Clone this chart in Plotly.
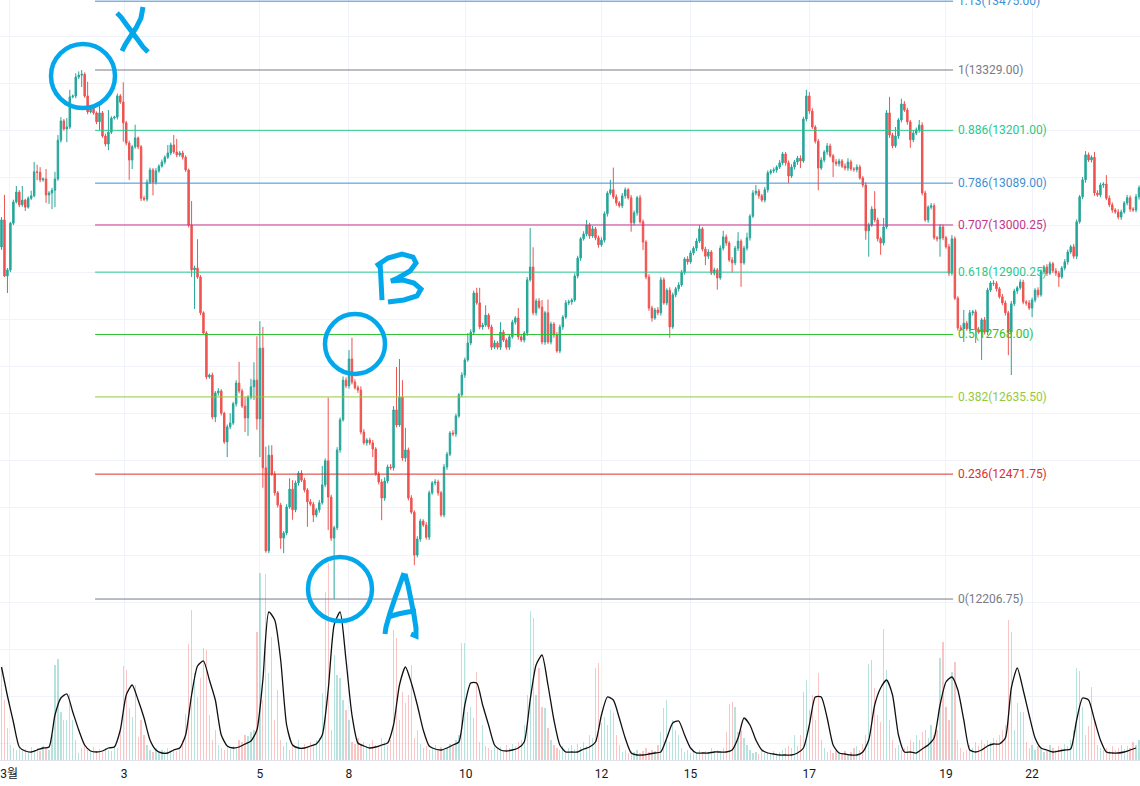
import plotly.graph_objects as go

# ---------------- data (hourly candles, index = candle number) ----------------
first_open = 12953.5
closes = [
    13011, 12892, 12905, 13004, 13049, 13070, 13043, 13053, 13038, 13057,
    13062, 13113, 13112, 13096, 13098, 13064, 13068, 13074, 13098, 13180,
    13221, 13204, 13208, 13272, 13274, 13314, 13318, 13320, 13274, 13240,
    13248, 13238, 13219, 13238, 13189, 13172, 13197, 13227, 13229, 13274,
    13261, 13217, 13174, 13138, 13166, 13185, 13166, 13057, 13055, 13091,
    13117, 13091, 13115, 13125, 13134, 13144, 13153, 13170, 13155, 13149,
    13153, 13144, 13117, 13000, 12905, 12909, 12890, 12814, 12771, 12678,
    12682, 12593, 12644, 12648, 12601, 12540, 12572,
    12580, 12621, 12665, 12648, 12616, 12591, 12635, 12657, 12671, 12589,
    12739, 12485, 12309, 12512, 12472, 12432, 12406, 12336, 12347, 12402,
    12440, 12396, 12453, 12474, 12459, 12438, 12413, 12408, 12385, 12396,
    12411, 12449, 12500, 12423, 12336, 12358,
    12523, 12587, 12671, 12659, 12716, 12667, 12655, 12650, 12561, 12538,
    12544, 12538, 12525, 12472, 12455, 12421, 12457, 12487, 12485, 12608,
    12576, 12635, 12506, 12523, 12421, 12391, 12300, 12334, 12372, 12364,
    12338, 12432, 12453, 12455, 12432, 12385, 12487, 12514, 12559, 12557,
    12595,
    12640, 12682, 12714, 12750, 12773, 12856, 12835, 12784, 12788, 12809,
    12784, 12741, 12750, 12741, 12773, 12756, 12741, 12763, 12794, 12803,
    12763, 12756, 12771, 12884, 12911, 12814, 12839, 12826, 12752, 12814,
    12752, 12790, 12767, 12733, 12784, 12805, 12835, 12837, 12841, 12892,
    12930, 12971, 12981, 13000, 12977, 12992, 12973, 12958, 12968, 13024,
    13068, 13075, 13060, 13047, 13041, 13062, 13075, 13058, 13005, 13026,
    13058, 13007, 12964, 12890, 12824, 12803, 12820, 12814, 12884, 12835,
    12862, 12784, 12852, 12865, 12873,
    12900, 12928, 12922, 12941, 12951, 12966, 12992, 12949, 12934, 12943,
    12898, 12905, 12888, 12951, 12975, 12962, 12926, 12920, 12951, 12966,
    12920, 12951, 12973, 13019, 13068, 13072, 13062, 13053, 13075, 13111,
    13115, 13117, 13123, 13132, 13151, 13132, 13104, 13123, 13134, 13142,
    13136, 13225, 13274, 13242, 13208, 13178, 13121, 13138, 13155, 13168,
    13147, 13134, 13130, 13136, 13125, 13121, 13134, 13119, 13118, 13123,
    13100, 13085, 12988, 13000, 13034, 13011, 12971, 12962, 12996, 13238,
    13191, 13168, 13189, 13223, 13257, 13244,
    13219, 13181, 13195, 13202, 13212, 13068, 13011, 13038, 13041, 12973,
    12971, 12996, 12973, 12954, 12898, 12971, 12845, 12782, 12780, 12792,
    12780, 12814, 12816, 12778, 12773, 12799, 12773, 12862, 12877, 12876,
    12865, 12848, 12835, 12814, 12773, 12833, 12860, 12867, 12879, 12837,
    12835, 12824, 12841, 12862, 12852, 12901, 12911, 12898, 12918, 12903,
    12898, 12890, 12909, 12922, 12943, 12954, 12934, 13007, 13060, 13096,
    13149, 13138, 13144, 13068, 13064, 13085, 13087, 13057, 13043, 13032,
    13028, 13017, 13028, 13047, 13058, 13034, 13032, 13060, 13079,
]

# wick beyond the candle body (price points)
wick_up = [
    6, 53, 4, 3, 5, 13, 4, 30, 3, 4,
    11, 21, 15, 11, 3, 21, 4, 5, 15, 11,
    8, 4, 19, 15, 3, 8, 8, 9, 4, 30,
    5, 4, 3, 17, 4, 5, 47, 4, 3, 5,
    4, 42, 4, 5, 4, 28, 3, 4, 5, 6,
    5, 4, 6, 4, 5, 4, 17, 5, 21, 28,
    4, 5, 4, 3, 51, 5, 61, 4, 3, 4,
    3, 5, 4, 6, 4, 3, 5, 21, 4, 6,
    45, 5, 19, 4, 17, 38, 93, 57, 45, 45,
    21, 21, 6, 4, 5, 4, 6, 23, 19, 5,
    4, 6, 5, 4, 6, 5, 4, 6, 40, 5,
    134, 5, 4, 6, 5, 8, 6, 19, 45, 6,
    5, 8, 6, 4, 5, 6, 4, 5, 6, 8,
    5, 6, 8, 91, 81, 36, 47, 5, 6, 4,
    6, 5, 4, 6, 5, 4, 6, 5, 4, 6,
    5, 4, 6, 5, 4, 6, 5, 21, 6, 5,
    11, 32, 5, 21, 4, 5, 6, 4, 21, 5,
    4, 6, 5, 4, 21, 5, 4, 6, 83, 42,
    5, 6, 15, 4, 28, 5, 4, 6, 5, 4,
    6, 5, 4, 6, 5, 4, 6, 11, 5, 6,
    4, 5, 6, 5, 4, 21, 47, 5, 4, 6,
    5, 4, 6, 5, 4, 6, 5, 4, 6, 5,
    4, 6, 6, 5, 4, 6, 5, 4, 6, 5,
    4, 6, 5, 4, 6, 8, 4, 5, 6, 4,
    5, 4, 6, 13, 5, 4, 6, 5, 19, 4,
    5, 11, 4, 6, 13, 5, 4, 6, 5, 4,
    5, 4, 6, 4, 4, 5, 6, 4, 5, 6,
    5, 13, 8, 6, 4, 5, 6, 4, 6, 5,
    4, 6, 5, 4, 6, 8, 5, 4, 6, 5,
    4, 6, 5, 6, 38, 5, 4, 19, 6, 34,
    5, 19, 4, 11, 6, 5, 4, 6, 5, 11,
    6, 5, 4, 6, 5, 4, 6, 5, 4, 6,
    8, 5, 4, 6, 28, 5, 6, 4, 5, 6,
    4, 6, 5, 4, 6, 5, 4, 6, 5, 4,
    6, 5, 4, 6, 5, 4, 6, 5, 4, 6,
    5, 4, 6, 5, 4, 6, 5, 4, 6, 5,
    4, 6, 5, 4, 6, 8, 5, 4, 11, 6,
    5, 4, 19, 6, 5, 4, 6, 5, 4, 6,
    5, 4, 6, 5,
]
wick_dn = [
    6, 2, 36, 5, 4, 3, 5, 4, 8, 3,
    4, 3, 17, 5, 4, 17, 19, 34, 36, 4,
    5, 4, 28, 4, 3, 5, 4, 25, 4, 5,
    3, 4, 5, 17, 4, 5, 13, 4, 3, 5,
    4, 40, 5, 42, 19, 4, 5, 6, 4, 5,
    4, 28, 5, 4, 3, 5, 4, 5, 4, 5,
    4, 5, 4, 5, 15, 83, 4, 5, 4, 5,
    4, 5, 11, 6, 5, 4, 32, 5, 4, 6,
    5, 4, 30, 38, 5, 28, 23, 81, 42, 4,
    5, 4, 6, 5, 23, 32, 5, 4, 21, 5,
    6, 4, 5, 53, 4, 15, 5, 6, 4, 5,
    70, 6, 129.25, 5, 6, 4, 5, 6, 5, 4,
    6, 5, 4, 6, 5, 17, 4, 5, 47, 6,
    5, 4, 6, 5, 4, 6, 8, 5, 4, 21,
    5, 6, 4, 5, 6, 4, 5, 6, 4, 5,
    6, 4, 5, 6, 4, 5, 6, 4, 5, 6,
    4, 5, 6, 4, 5, 6, 4, 5, 6, 4,
    5, 6, 4, 5, 6, 4, 5, 6, 4, 5,
    6, 4, 5, 6, 4, 5, 6, 4, 5, 6,
    4, 5, 6, 4, 5, 6, 4, 5, 6, 4,
    5, 6, 4, 5, 6, 4, 5, 6, 4, 5,
    6, 4, 19, 5, 6, 4, 17, 5, 6, 8,
    4, 5, 6, 4, 5, 23, 4, 5, 6, 4,
    5, 6, 4, 5, 6, 4, 5, 19, 6, 4,
    5, 25, 4, 5, 6, 4, 21, 5, 6, 51,
    4, 5, 6, 4, 5, 6, 4, 5, 6, 4,
    5, 6, 4, 5, 6, 15, 4, 5, 6, 15,
    4, 5, 6, 4, 5, 47, 4, 5, 6, 4,
    32, 5, 6, 4, 5, 6, 4, 5, 6, 4,
    5, 19, 55, 4, 5, 6, 25, 5, 4, 6,
    5, 4, 6, 5, 4, 6, 17, 5, 4, 6,
    5, 4, 6, 5, 4, 6, 38, 5, 4, 6,
    5, 4, 6, 5, 28, 4, 5, 6, 28, 4,
    59, 5, 6, 4, 5, 6, 4, 5, 6, 49,
    91, 5, 6, 4, 5, 6, 4, 19, 5, 6,
    4, 5, 6, 4, 5, 6, 21, 4, 5, 6,
    4, 5, 6, 4, 5, 6, 4, 5, 6, 4,
    5, 6, 4, 5, 6, 4, 5, 6, 4, 5,
    6, 4, 5, 6,
]

volume = [
    93, 60, 32, 15, 12, 10, 12, 9, 11, 8,
    13, 10, 12, 9, 14, 12, 10, 25, 95, 101,
    48, 40, 40, 66, 40, 20, 7, 12, 15, 10,
    8, 13, 9, 11, 8, 12, 10, 9, 14, 12,
    30, 94, 90, 52, 43, 75, 23, 40, 25, 15,
    10, 8, 12, 7, 10, 9, 12, 8, 11, 9,
    13, 20, 46, 116, 150, 87, 63, 82, 112, 110,
    45, 20, 30, 15, 12, 10, 13, 11, 14, 12,
    20, 18, 25, 24, 28, 30, 128, 187, 60, 186,
    87, 123, 40, 70, 20, 14, 18, 10, 15, 12,
    20, 11, 16, 13, 18, 14, 20, 22, 67, 168,
    197, 30, 105, 85, 82, 60, 50, 40, 18, 16,
    22, 15, 18, 14, 16, 20, 15, 14, 22, 18,
    15, 20, 130, 122, 40, 68, 57, 65, 95, 22,
    30, 16, 12, 14, 10, 12, 15, 11, 13, 10,
    12, 16, 15, 20, 25, 117, 117, 48, 53, 42,
    88, 18, 35, 14, 12, 10, 14, 11, 13, 9,
    15, 12, 16, 14, 18, 20, 35, 65, 149, 142,
    65, 92, 53, 52, 32, 20, 15, 12, 10, 14,
    9, 12, 15, 11, 16, 13, 18, 14, 25, 22,
    92, 97, 37, 43, 35, 50, 47, 25, 15, 8,
    10, 7, 9, 8, 10, 7, 9, 12, 8, 10,
    9, 15, 28, 52, 60, 18, 40, 30, 25, 12,
    8, 10, 7, 9, 8, 10, 7, 9, 8, 12,
    9, 10, 8, 12, 28, 56, 58, 53, 28, 30,
    22, 15, 10, 7, 8, 6, 9, 7, 8, 6,
    9, 7, 8, 10, 12, 14, 12, 25, 14, 25,
    68, 80, 50, 65, 40, 87, 20, 12, 8, 10,
    7, 9, 8, 7, 9, 6, 8, 12, 14, 10,
    16, 25, 96, 100, 72, 45, 38, 131, 90, 40,
    20, 12, 15, 10, 12, 14, 20, 18, 25, 20,
    28, 30, 22, 35, 25, 30, 102, 118, 53, 40,
    88, 98, 20, 12, 8, 10, 15, 12, 18, 14,
    20, 16, 20, 18, 22, 20, 25, 30, 35, 140,
    128, 30, 57, 48, 48, 18, 12, 15, 10, 14,
    12, 8, 10, 15, 12, 10, 14, 12, 16, 14,
    20, 30, 92, 89, 53, 25, 34, 73, 40, 15,
    12, 10, 12, 9, 14, 10, 12, 15, 11, 14,
    12, 18, 15, 20,
]

# smoothed volume indicator, one value every second candle
vol_line = [
    93, 64, 38, 13, 9, 8, 10, 12, 13, 45,
    62, 66, 48, 30, 15, 9, 8, 9, 12, 13,
    30, 65, 75, 60, 42, 20, 10, 7, 7, 10,
    12, 25, 65, 94, 99, 80, 60, 25, 14, 12,
    13, 16, 19, 30, 80, 148, 140, 100, 35, 15,
    12, 12, 14, 16, 25, 70, 135, 148, 100, 45,
    17, 14, 12, 13, 15, 17, 35, 75, 93, 77,
    55, 30, 14, 11, 10, 12, 15, 18, 55, 77,
    77, 55, 35, 15, 10, 9, 10, 12, 18, 60,
    95, 105, 75, 40, 15, 8, 8, 8, 11, 13,
    18, 45, 63, 60, 42, 22, 7, 5, 5, 6,
    7, 8, 22, 37, 39, 25, 12, 7, 7, 7,
    8, 8, 8, 10, 22, 42, 35, 20, 10, 7,
    6, 5, 5, 5, 7, 12, 35, 63, 63, 42,
    15, 7, 6, 5, 5, 8, 20, 55, 72, 80,
    65, 25, 8, 8, 7, 11, 15, 22, 55, 78,
    83, 70, 40, 10, 8, 10, 14, 16, 16, 22,
    72, 92, 70, 45, 22, 12, 10, 8, 9, 10,
    11, 40, 62, 60, 40, 20, 8, 7, 7, 8,
    10, 12,
]

fib_ratios = ["1.13", "1", "0.886", "0.786", "0.707", "0.618", "0.5", "0.382", "0.236", "0"]
fib_prices = [13475.00, 13329.00, 13201.00, 13089.00, 13000.25, 12900.25, 12768.00, 12635.50, 12471.75, 12206.75]
fib_colors = ["#3d8fd3", "#787b86", "#27c98b", "#3d8fd3", "#c4348a", "#27c98b", "#2cc22c", "#94c93d", "#d8302e", "#787b86"]

tick_pos = [2.6, 41.3, 87, 117, 156.3, 202, 232, 272, 318, 347]
tick_text = ["3월", "3", "5", "8", "10", "12", "15", "17", "19", "22"]

# ---------------- build ----------------
n = len(closes)
idx = list(range(n))
opens = [first_open] + closes[:-1]
highs = [max(o, c) + u for o, c, u in zip(opens, closes, wick_up)]
lows = [min(o, c) - d for o, c, d in zip(opens, closes, wick_dn)]
vcol = ["rgba(38,166,154,0.33)" if c >= o else "rgba(239,83,80,0.33)" for o, c in zip(opens, closes)]
line_idx = idx[::2][:len(vol_line)]

fig = go.Figure()
fig.add_trace(go.Bar(x=idx, y=volume, marker=dict(color=vcol, line=dict(width=0)),
                     width=0.42, yaxis="y", hoverinfo="skip", showlegend=False))
fig.add_trace(go.Scatter(x=line_idx, y=vol_line, mode="lines", yaxis="y",
                         line=dict(color="#111111", width=1.3, shape="spline", smoothing=0.6),
                         hoverinfo="skip", showlegend=False))
fig.add_trace(go.Candlestick(x=idx, open=opens, high=highs, low=lows, close=closes, yaxis="y2",
                             increasing=dict(line=dict(color="#26a69a", width=1), fillcolor="#26a69a"),
                             decreasing=dict(line=dict(color="#ef5350", width=1), fillcolor="#ef5350"),
                             whiskerwidth=0, showlegend=False))

W, H = 1140, 760
FONT = "Roboto, 'Noto Sans CJK KR', sans-serif"

shapes = []
annotations = []
fib_x0, fib_x1, label_x = 31.5, 320.4, 321.4
for r, p, c in zip(fib_ratios, fib_prices, fib_colors):
    shapes.append(dict(type="line", xref="x", yref="y2", x0=fib_x0, x1=fib_x1, y0=p, y1=p,
                       line=dict(color=c, width=1), layer="above"))
    annotations.append(dict(xref="x", yref="y2", x=label_x, y=p, text=f"{r}({p:.2f})",
                            showarrow=False, xanchor="left", yanchor="middle",
                            font=dict(family=FONT, size=12, color=c)))

BLUE = "#03a8ec"


def pp(x, y):
    return x / W, 1 - y / H


def stroke(pts):
    s = ""
    for k, (x, y) in enumerate(pts):
        px, py = pp(x, y)
        s += ("M" if k == 0 else "L") + f"{px:.5f},{py:.5f} "
    return dict(type="path", xref="paper", yref="paper", path=s.strip(),
                line=dict(color=BLUE, width=5), layer="above")


def circle(cx, cy, r):
    x0, y1 = pp(cx - r, cy - r)
    x1, y0 = pp(cx + r, cy + r)
    return dict(type="circle", xref="paper", yref="paper", x0=x0, x1=x1, y0=y0, y1=y1,
                line=dict(color=BLUE, width=4.5), layer="above")


shapes += [circle(83, 76, 32), circle(355, 344, 30), circle(340, 589, 32)]
# hand-drawn letters X, B, A
shapes += [
    stroke([(117, 13), (121, 17), (126, 24), (132, 32), (138, 40), (143, 47), (148, 52)]),
    stroke([(143, 7), (141, 18), (136, 28), (130, 37), (125, 45), (122, 51)]),
    stroke([(380, 262), (381, 280), (382, 300)]),
    stroke([(376, 266), (388, 258), (402, 254), (413, 257), (416, 263), (410, 271), (398, 278),
            (391, 281), (403, 280), (414, 283), (421, 289), (417, 296), (404, 300), (388, 302)]),
    stroke([(404, 573), (400, 584), (395, 598), (390, 613), (386, 627), (385, 634)]),
    stroke([(405, 574), (408, 585), (411, 600), (414, 615), (416, 628), (416, 636), (411, 634)]),
    stroke([(388, 617), (398, 614), (408, 612), (416, 611)]),
]

fig.update_layout(
    width=1140, height=786,
    margin=dict(l=0, r=0, t=0, b=26, autoexpand=False),
    paper_bgcolor="white", plot_bgcolor="white",
    showlegend=False, bargap=0,
    font=dict(family=FONT, size=12, color="#131722"),
    xaxis=dict(range=[-0.505, 383.33], tickvals=tick_pos, ticktext=tick_text,
               showgrid=True, gridcolor="#f0f3fa", gridwidth=1, zeroline=False,
               showline=True, linecolor="#e0e3eb", linewidth=1, ticks="",
               tickfont=dict(family=FONT, size=12, color="#131722"),
               rangeslider=dict(visible=False), automargin=False, ticklabelstandoff=3),
    yaxis=dict(range=[0, 760], visible=False, fixedrange=True),
    yaxis2=dict(range=[11865.3, 13477.5], overlaying="y", side="right", showticklabels=False,
                showgrid=True, gridcolor="#f0f3fa", gridwidth=1, tick0=0, dtick=100,
                zeroline=False, ticks="", automargin=False),
    shapes=shapes, annotations=annotations,
)

fig.write_html("out.html", config={"displayModeBar": False},
               post_script="document.body.style.margin='0';document.body.style.padding='0';")
